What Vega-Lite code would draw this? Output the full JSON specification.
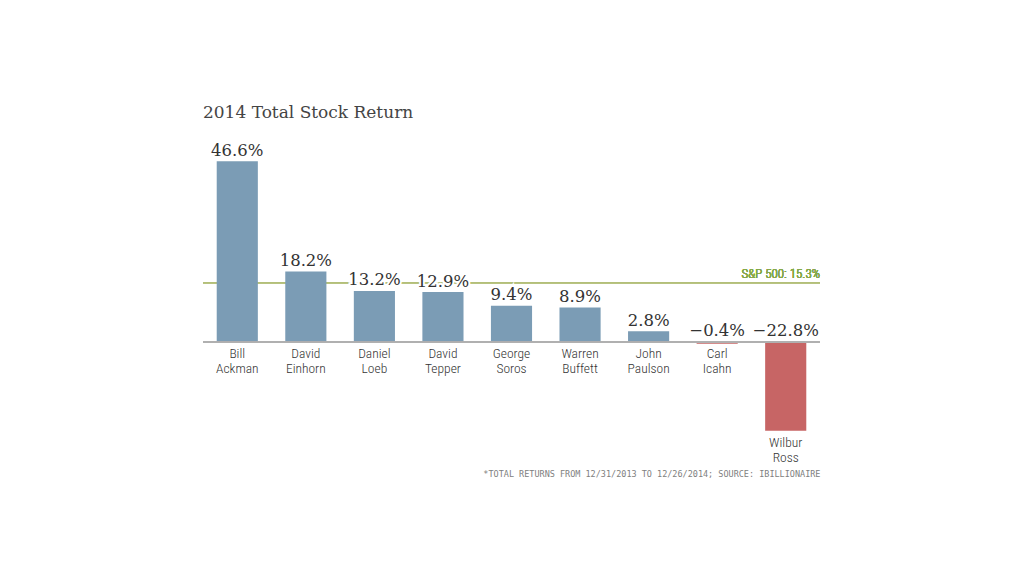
{
  "$schema": "https://vega.github.io/schema/vega-lite/v6.json",
  "autosize": "none",
  "width": 617,
  "height": 310.7,
  "padding": {"left": 203, "top": 148, "right": 204, "bottom": 117},
  "background": "white",
  "config": {"view": {"stroke": null}},
  "title": {
    "text": "2014 Total Stock Return",
    "anchor": "start",
    "frame": "group",
    "font": "DejaVu Serif",
    "fontSize": 17,
    "fontWeight": "normal",
    "color": "#444444",
    "offset": 21
  },
  "data": {
    "values": [
      {"name": "Bill Ackman", "value": 0.466},
      {"name": "David Einhorn", "value": 0.182},
      {"name": "Daniel Loeb", "value": 0.132},
      {"name": "David Tepper", "value": 0.129},
      {"name": "George Soros", "value": 0.094},
      {"name": "Warren Buffett", "value": 0.089},
      {"name": "John Paulson", "value": 0.028},
      {"name": "Carl Icahn", "value": -0.004},
      {"name": "Wilbur Ross", "value": -0.228}
    ]
  },
  "layer": [
    {
      "mark": {"type": "rule", "color": "#b3bf78", "strokeWidth": 1},
      "encoding": {"y": {"datum": 0.153, "type": "quantitative", "scale": {"domain": [-0.3, 0.5], "nice": false}, "axis": null}}
    },
    {
      "mark": {"type": "text", "align": "right", "baseline": "alphabetic", "dy": -5, "font": "Roboto Condensed, Liberation Sans Narrow, DejaVu Sans Condensed", "fontSize": 13, "fontWeight": 350, "color": "#86a84a"},
      "encoding": {
        "x": {"value": "width"},
        "y": {"datum": 0.153, "type": "quantitative"},
        "text": {"value": "S&P 500: 15.3%"}
      }
    },
    {
      "mark": {"type": "bar"},
      "encoding": {
        "x": {
          "field": "name", "type": "nominal", "sort": null,
          "scale": {"paddingInner": 0.4, "paddingOuter": 0.2},
          "axis": {
            "domain": false, "ticks": false, "labels": false,
            "title": "*TOTAL RETURNS FROM 12/31/2013 TO 12/26/2014; SOURCE: IBILLIONAIRE",
            "titleAnchor": "end", "titleFont": "DejaVu Sans Mono", "titleFontSize": 8.5,
            "titleFontWeight": "normal", "titleColor": "#808080", "titlePadding": 11
          }
        },
        "y": {"field": "value", "type": "quantitative"},
        "color": {"condition": {"test": "datum.value < 0", "value": "#c76565"}, "value": "#7b9cb5"}
      }
    },
    {
      "mark": {"type": "rule", "color": "#b0b0b0", "strokeWidth": 1},
      "encoding": {"y": {"datum": 0, "type": "quantitative"}}
    },
    {
      "transform": [{"filter": "datum.value >= 0"}],
      "mark": {"type": "text", "baseline": "alphabetic", "dy": -5.5, "font": "DejaVu Serif", "fontSize": 16.5, "stroke": "white", "strokeWidth": 4, "fill": "white"},
      "encoding": {
        "x": {"field": "name", "type": "nominal", "sort": null},
        "y": {"field": "value", "type": "quantitative"},
        "text": {"field": "value", "type": "quantitative", "format": ".1%"}
      }
    },
    {
      "transform": [{"filter": "datum.value < 0"}],
      "mark": {"type": "text", "baseline": "alphabetic", "dy": -6, "font": "DejaVu Serif", "fontSize": 16.5, "stroke": "white", "strokeWidth": 4, "fill": "white"},
      "encoding": {
        "x": {"field": "name", "type": "nominal", "sort": null},
        "y": {"datum": 0, "type": "quantitative"},
        "text": {"field": "value", "type": "quantitative", "format": ".1%"}
      }
    },
    {
      "transform": [{"filter": "datum.value >= 0"}],
      "mark": {"type": "text", "baseline": "alphabetic", "dy": -5.5, "font": "DejaVu Serif", "fontSize": 16.5, "color": "#333333"},
      "encoding": {
        "x": {"field": "name", "type": "nominal", "sort": null},
        "y": {"field": "value", "type": "quantitative"},
        "text": {"field": "value", "type": "quantitative", "format": ".1%"}
      }
    },
    {
      "transform": [{"filter": "datum.value < 0"}],
      "mark": {"type": "text", "baseline": "alphabetic", "dy": -6, "font": "DejaVu Serif", "fontSize": 16.5, "color": "#333333"},
      "encoding": {
        "x": {"field": "name", "type": "nominal", "sort": null},
        "y": {"datum": 0, "type": "quantitative"},
        "text": {"field": "value", "type": "quantitative", "format": ".1%"}
      }
    },
    {
      "transform": [{"filter": "datum.value > -0.05"}],
      "mark": {"type": "text", "baseline": "top", "dy": 5, "lineBreak": " ", "lineHeight": 15, "font": "Roboto Condensed, Liberation Sans Narrow, DejaVu Sans Condensed", "fontSize": 13.5, "fontWeight": 350, "color": "#333333"},
      "encoding": {
        "x": {"field": "name", "type": "nominal", "sort": null},
        "y": {"datum": 0, "type": "quantitative"},
        "text": {"field": "name", "type": "nominal"}
      }
    },
    {
      "transform": [{"filter": "datum.value <= -0.05"}],
      "mark": {"type": "text", "baseline": "top", "dy": 5, "lineBreak": " ", "lineHeight": 15, "font": "Roboto Condensed, Liberation Sans Narrow, DejaVu Sans Condensed", "fontSize": 13.5, "fontWeight": 350, "color": "#333333"},
      "encoding": {
        "x": {"field": "name", "type": "nominal", "sort": null},
        "y": {"field": "value", "type": "quantitative"},
        "text": {"field": "name", "type": "nominal"}
      }
    }
  ]
}
